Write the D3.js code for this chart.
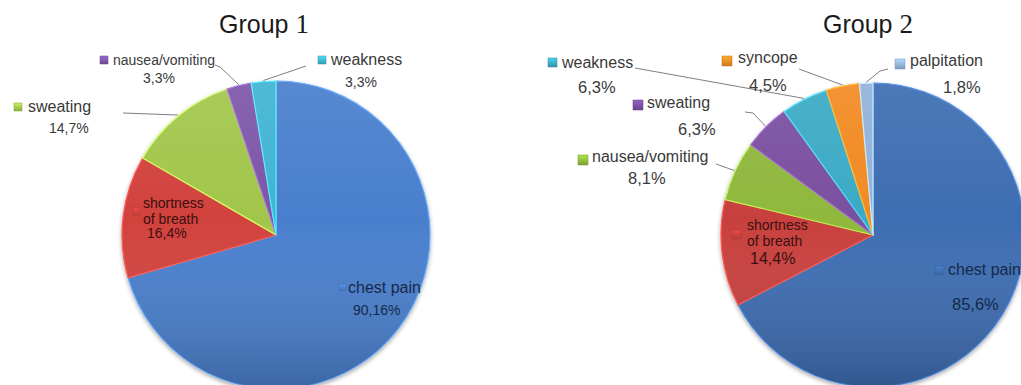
<!DOCTYPE html>
<html>
<head>
<meta charset="utf-8">
<script src="https://cdn.jsdelivr.net/npm/d3@7"></script>
<style>
  body { margin: 0; background: #ffffff; }
  svg { display: block; }
</style>
</head>
<body>
<svg id="chart" width="1021" height="385"></svg>
<script>
// Symptom shares, group 1
const categories1 = ["chest pain", "shortness of breath", "sweating", "nausea/vomiting", "weakness"];
const values1 = [90.16, 16.4, 14.7, 3.3, 3.3];

// Symptom shares, group 2
const categories2 = ["chest pain", "shortness of breath", "nausea/vomiting", "sweating", "weakness", "syncope", "palpitation"];
const values2 = [85.6, 14.4, 8.1, 6.3, 6.3, 4.5, 1.8];

const titles = ["Group 1", "Group 2"];

// Slice palettes (by series position)
const palette1 = ["#4a7fcd", "#d2423d", "#a2c64c", "#7d56a8", "#40b4d2"];
const palette2 = ["#3d6db2", "#c8403c", "#8fb83d", "#7a4fa0", "#3aaac4", "#f28a24", "#93b1d9"];

// Label placement for each chart (marker, text lines, percentage, leader line)
const layout1 = {
  cx: 276, cy: 235, r: 154, titleX: 264,
  labels: {
    "chest pain":          { m: [339, 284, 7], lines: [["chest pain", 348, 293, 16]], pct: [353, 315, 14], ink: "#17294a" },
    "shortness of breath": { m: [133, 208, 7], lines: [["shortness", 143, 208, 14], ["of breath", 143, 224, 14]], pct: [147, 238, 14], ink: "#3a1010" },
    "sweating":            { m: [14, 103, 8], lines: [["sweating", 28, 112, 16]], pct: [49, 133, 14], lead: [[123, 113]] },
    "nausea/vomiting":     { m: [100, 56, 8], lines: [["nausea/vomiting", 113, 65, 14]], pct: [143, 83, 14], lead: [[215, 65], [220, 67]] },
    "weakness":            { m: [318, 56, 8], lines: [["weakness", 331, 65, 16]], pct: [345, 87, 14], lead: [[306, 66]] }
  }
};
const layout2 = {
  cx: 873, cy: 235, r: 152, titleX: 868,
  labels: {
    "chest pain":          { m: [935, 266, 9], lines: [["chest pain", 948, 275, 16]], pct: [952, 310, 16.5], ink: "#17294a" },
    "shortness of breath": { m: [732, 230, 9], lines: [["shortness", 747, 230, 14], ["of breath", 747, 246, 14]], pct: [750, 264, 16], ink: "#3a1010" },
    "nausea/vomiting":     { m: [578, 155, 10], lines: [["nausea/vomiting", 592, 162, 16]], pct: [628, 184, 16.5], lead: [[716, 164]] },
    "sweating":            { m: [633, 100, 10], lines: [["sweating", 647, 108, 16]], pct: [678, 135, 16.5], lead: [[745, 112], [753, 113]] },
    "weakness":            { m: [548, 58, 9], lines: [["weakness", 562, 68, 16]], pct: [578, 93, 16.5], lead: [[635, 68]] },
    "syncope":             { m: [722, 56, 10], lines: [["syncope", 738, 63, 16]], pct: [749, 91, 16.5], lead: [[799, 69]] },
    "palpitation":         { m: [895, 59, 10], lines: [["palpitation", 910, 66, 16]], pct: [943, 93, 16.5], lead: [[888, 69], [880, 71]] }
  }
};

const fmtPct = v => String(v).replace(".", ",") + "%";
const svg = d3.select("#chart");
const defs = svg.append("defs");

// Soft shadow under each pie
const shadow = defs.append("filter").attr("id", "pieShadow")
  .attr("x", "-10%").attr("y", "-10%").attr("width", "120%").attr("height", "125%");
shadow.append("feDropShadow").attr("dx", 0).attr("dy", 2).attr("stdDeviation", 2)
  .attr("flood-color", "#000").attr("flood-opacity", 0.35);

// Shading overlay: lighter towards the top, darker towards the bottom
const shade = defs.append("linearGradient").attr("id", "pieShade")
  .attr("x1", 0).attr("y1", 0).attr("x2", 0).attr("y2", 1);
shade.append("stop").attr("offset", "0%").attr("stop-color", "#fff").attr("stop-opacity", 0.08);
shade.append("stop").attr("offset", "45%").attr("stop-color", "#fff").attr("stop-opacity", 0);
shade.append("stop").attr("offset", "100%").attr("stop-color", "#000").attr("stop-opacity", 0.2);

function drawPie(categories, values, palette, cfg, title) {
  const data = categories.map((c, i) => ({ category: c, value: values[i], color: palette[i] }));
  const pie = d3.pie().sort(null).value(d => d.value);
  const arcs = pie(data);
  const arc = d3.arc().innerRadius(0).outerRadius(cfg.r);

  const g = svg.append("g").attr("transform", `translate(${cfg.cx},${cfg.cy})`);
  const body = g.append("g").attr("filter", "url(#pieShadow)");

  body.selectAll("path.slice").data(arcs).join("path")
    .attr("class", "slice")
    .attr("d", arc)
    .attr("fill", d => d.data.color)
    .attr("stroke", d => d3.color(d.data.color).brighter(0.8))
    .attr("stroke-width", 1.2)
    .attr("stroke-linejoin", "round");

  // Bevel highlight overlay over the whole disc
  g.append("circle").attr("r", cfg.r).attr("fill", "url(#pieShade)").attr("pointer-events", "none");

  // Title
  const t = svg.append("text")
    .attr("x", cfg.titleX).attr("y", 33)
    .attr("text-anchor", "middle")
    .attr("font-family", "Liberation Sans, Arial, sans-serif")
    .attr("font-size", 25).attr("fill", "#1a1a1a");
  const parts = title.split(" ");
  t.append("tspan").text(parts[0] + " ");
  t.append("tspan").attr("font-family", "Liberation Serif, Times New Roman, serif").attr("font-size", 27).text(parts[1]);

  // Leader lines from label to slice edge
  const labelsG = svg.append("g");
  arcs.forEach(a => {
    const L = cfg.labels[a.data.category];
    if (L.lead) {
      const mid = (a.startAngle + a.endAngle) / 2;
      const end = [cfg.cx + Math.sin(mid) * (cfg.r + 1), cfg.cy - Math.cos(mid) * (cfg.r + 1)];
      labelsG.append("path")
        .attr("d", d3.line()(L.lead.concat([end])))
        .attr("fill", "none").attr("stroke", "#7f7f7f").attr("stroke-width", 1);
    }
  });

  // Labels: colour key, category name, percentage
  arcs.forEach(a => {
    const L = cfg.labels[a.data.category];
    const ink = L.ink || "#3a3a3a";
    const [mx, my, ms] = L.m;
    const key = d3.color(a.data.color);
    const keyId = "key" + Math.round(mx) + "_" + Math.round(my);
    const kg = defs.append("linearGradient").attr("id", keyId)
      .attr("x1", 0).attr("y1", 0).attr("x2", 0).attr("y2", 1);
    kg.append("stop").attr("offset", "0%").attr("stop-color", key.brighter(0.6));
    kg.append("stop").attr("offset", "100%").attr("stop-color", key.darker(0.4));
    labelsG.append("rect")
      .attr("x", mx).attr("y", my).attr("width", ms).attr("height", ms)
      .attr("fill", `url(#${keyId})`)
      .attr("stroke", key.darker(0.6)).attr("stroke-width", 0.5)
      .attr("opacity", L.ink ? 0.7 : 1);
    L.lines.forEach(([txt, x, y, fs]) => {
      labelsG.append("text")
        .attr("x", x).attr("y", y)
        .attr("font-family", "Liberation Sans, Arial, sans-serif")
        .attr("font-size", fs).attr("fill", ink)
        .text(txt);
    });
    labelsG.append("text")
      .attr("x", L.pct[0]).attr("y", L.pct[1])
      .attr("font-family", "Liberation Sans, Arial, sans-serif")
      .attr("font-size", L.pct[2]).attr("fill", ink)
      .text(fmtPct(a.data.value));
  });
}

drawPie(categories1, values1, palette1, layout1, titles[0]);
drawPie(categories2, values2, palette2, layout2, titles[1]);
</script>
</body>
</html>
